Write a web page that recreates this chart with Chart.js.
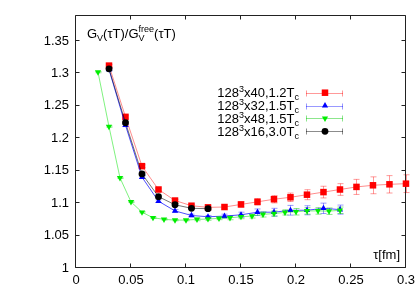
<!DOCTYPE html>
<html>
<head>
<meta charset="utf-8">
<script src="https://cdn.jsdelivr.net/npm/chart.js"></script>
<style>html,body{margin:0;padding:0;background:#fff}</style>
</head>
<body>
<canvas id="chart" width="420" height="294"></canvas>
<script>
// tau [fm] and G_V/G_V^free for each lattice
const tau40 = [0.03, 0.045, 0.06, 0.075, 0.09, 0.105, 0.12, 0.135, 0.15, 0.165, 0.18, 0.195, 0.21, 0.225, 0.24, 0.255, 0.27, 0.285, 0.30];
const g40 = [1.312, 1.233, 1.157, 1.121, 1.104, 1.096, 1.0935, 1.094, 1.098, 1.102, 1.106, 1.109, 1.113, 1.117, 1.121, 1.125, 1.1275, 1.129, 1.130];
const e40 = [0.002, 0.002, 0.002, 0.002, 0.002, 0.002, 0.002, 0.003, 0.004, 0.005, 0.0057, 0.0065, 0.0077, 0.009, 0.009, 0.0116, 0.013, 0.0134, 0.0137];

const tau32 = [0.03, 0.045, 0.06, 0.075, 0.09, 0.105, 0.12, 0.135, 0.15, 0.165, 0.18, 0.195, 0.21, 0.225, 0.24];
const g32 = [1.306, 1.220, 1.140, 1.103, 1.088, 1.081, 1.079, 1.080, 1.082, 1.086, 1.086, 1.089, 1.089, 1.092, 1.090];
const e32 = [0.002, 0.002, 0.002, 0.002, 0.002, 0.002, 0.002, 0.003, 0.004, 0.005, 0.006, 0.0075, 0.007, 0.008, 0.007];

const tau48 = [0.02, 0.03, 0.04, 0.05, 0.06, 0.07, 0.08, 0.09, 0.10, 0.11, 0.12, 0.13, 0.14, 0.15, 0.16, 0.17, 0.18, 0.19, 0.20, 0.21, 0.22, 0.23, 0.24];
const g48 = [1.302, 1.218, 1.139, 1.102, 1.086, 1.0775, 1.075, 1.0738, 1.0738, 1.0749, 1.0755, 1.0765, 1.0774, 1.079, 1.080, 1.0826, 1.084, 1.0857, 1.0867, 1.088, 1.088, 1.0876, 1.089];
const e48 = [0.001, 0.001, 0.001, 0.001, 0.001, 0.001, 0.001, 0.001, 0.001, 0.002, 0.002, 0.002, 0.003, 0.003, 0.003, 0.004, 0.004, 0.004, 0.005, 0.005, 0.005, 0.005, 0.005];

const tau16 = [0.03, 0.045, 0.06, 0.075, 0.09, 0.105, 0.12];
const g16 = [1.307, 1.224, 1.145, 1.110, 1.0975, 1.092, 1.0915];
const e16 = [0.002, 0.002, 0.002, 0.002, 0.002, 0.002, 0.002];

const xTicks = [0, 0.05, 0.1, 0.15, 0.2, 0.25, 0.3];
const yTicks = [1, 1.05, 1.1, 1.15, 1.2, 1.25, 1.3, 1.35];

const FONT = '"Liberation Sans", Arial, sans-serif';

const series = [
    { label: [["128"], ["3", "sup"], ["x40,1.2T"], ["c", "sub"]], tau: tau40, g: g40, err: e40,
      color: "#ff0000", line: "rgba(255,0,0,0.45)", errColor: "rgba(255,0,0,0.4)", style: "rect", radius: 4.6, rot: 0 },
    { label: [["128"], ["3", "sup"], ["x32,1.5T"], ["c", "sub"]], tau: tau32, g: g32, err: e32,
      color: "#0000ff", line: "rgba(0,0,255,0.7)", errColor: "rgba(0,0,255,0.4)", style: "triangle", radius: 3.6, rot: 0 },
    { label: [["128"], ["3", "sup"], ["x48,1.5T"], ["c", "sub"]], tau: tau48, g: g48, err: e48,
      color: "#00ee00", line: "rgba(0,230,0,0.5)", errColor: "rgba(0,200,0,0.45)", style: "triangle", radius: 3.6, rot: 180 },
    { label: [["128"], ["3", "sup"], ["x16,3.0T"], ["c", "sub"]], tau: tau16, g: g16, err: e16,
      color: "#000000", line: "rgba(0,0,0,0.55)", errColor: "rgba(0,0,0,0.45)", style: "circle", radius: 3.4, rot: 0 },
];

// draw text with ^sup / _sub pieces
function richWidth(ctx, parts) {
    let w = 0;
    parts.forEach(([t, k, t2]) => {
        ctx.font = (k ? "9px " : "13px ") + FONT;
        let pw = ctx.measureText(t).width;
        if (k === "subsup") pw = Math.max(pw, ctx.measureText(t2).width);
        w += pw;
    });
    return w;
}
function drawRich(ctx, parts, x, base) {
    ctx.textBaseline = "alphabetic";
    ctx.textAlign = "left";
    parts.forEach(([t, k, t2]) => {
        ctx.font = (k ? "9px " : "13px ") + FONT;
        let w = ctx.measureText(t).width;
        if (!k) ctx.fillText(t, x, base);
        else if (k === "sup") ctx.fillText(t, x, base - 5);
        else if (k === "sub") ctx.fillText(t, x, base + 3);
        else {
            ctx.fillText(t, x, base + 3);
            ctx.fillText(t2, x, base - 6);
            w = Math.max(w, ctx.measureText(t2).width);
        }
        x += w;
    });
}

const errorBars = {
    id: "errorBars",
    beforeDatasetsDraw(chart) {
        const ctx = chart.ctx, ys = chart.scales.y;
        chart.data.datasets.forEach((ds, i) => {
            const meta = chart.getDatasetMeta(i);
            ctx.save();
            ctx.strokeStyle = ds.errColor;
            ctx.lineWidth = 1;
            ctx.beginPath();
            meta.data.forEach((pt, j) => {
                const v = ds.data[j].y, e = ds.errs[j];
                const y1 = ys.getPixelForValue(v - e), y2 = ys.getPixelForValue(v + e);
                const x = Math.round(pt.x) + 0.5;
                ctx.moveTo(x, y1); ctx.lineTo(x, y2);
                ctx.moveTo(x - 3, y1); ctx.lineTo(x + 3, y1);
                ctx.moveTo(x - 3, y2); ctx.lineTo(x + 3, y2);
            });
            ctx.stroke();
            ctx.restore();
        });
    }
};

const frame = {
    id: "frame",
    beforeDatasetsDraw(chart) {
        const ctx = chart.ctx, a = chart.chartArea;
        const xs = chart.scales.x, ys = chart.scales.y;
        const L = Math.round(a.left) - 0.5, R = Math.round(a.right) - 0.5;
        const T = Math.round(a.top) + 0.5, B = Math.round(a.bottom) - 0.5;
        ctx.save();
        ctx.strokeStyle = "#222";
        ctx.lineWidth = 1;
        ctx.beginPath();
        ctx.rect(L, T, R - L, B - T);
        xTicks.forEach(v => {
            const x = Math.round(xs.getPixelForValue(v)) - 0.5;
            ctx.moveTo(x, B); ctx.lineTo(x, B - 4);
            ctx.moveTo(x, T); ctx.lineTo(x, T + 4);
        });
        yTicks.forEach(v => {
            const y = Math.round(ys.getPixelForValue(v)) - 0.5;
            ctx.moveTo(L, y); ctx.lineTo(L + 4, y);
            ctx.moveTo(R, y); ctx.lineTo(R - 4, y);
        });
        ctx.stroke();
        ctx.restore();
    },
    afterDraw(chart) {
        const ctx = chart.ctx;
        ctx.save();
        ctx.fillStyle = "#000";
        // title inside plot
        drawRich(ctx, [["G"], ["V", "sub"], ["(τT)/G"], ["V", "subsup", "free"], ["(τT)"]], 87, 37.5);
        // axis label
        ctx.font = "13px " + FONT;
        ctx.textAlign = "right";
        ctx.fillText("τ[fm]", 400, 259);
        // legend
        const rowY = [92.7, 105.7, 118.3, 131.3];
        series.forEach((s, i) => {
            const y = rowY[i];
            ctx.fillStyle = "#000";
            const w = richWidth(ctx, s.label);
            drawRich(ctx, s.label, 299 - w, y + 4.7);
            ctx.strokeStyle = s.errColor;
            ctx.lineWidth = 1;
            ctx.beginPath();
            const yy = Math.round(y) + 0.5;
            ctx.moveTo(306, yy); ctx.lineTo(343, yy);
            ctx.moveTo(306.5, yy - 3); ctx.lineTo(306.5, yy + 3);
            ctx.moveTo(342.5, yy - 3); ctx.lineTo(342.5, yy + 3);
            ctx.stroke();
            ctx.fillStyle = s.color;
            ctx.strokeStyle = s.color;
            Chart.helpers.drawPoint(ctx, { pointStyle: s.style, radius: s.radius, rotation: s.rot, borderWidth: 0 }, 325, y);
        });
        ctx.restore();
    }
};

new Chart(document.getElementById("chart"), {
    type: "scatter",
    data: {
        datasets: series.map((s, i) => ({
            label: s.label.map(p => p[0]).join(""),
            data: s.tau.map((t, j) => ({ x: t, y: s.g[j] })),
            errs: s.err,
            errColor: s.errColor,
            showLine: true,
            borderColor: s.line,
            borderWidth: 1,
            pointStyle: s.style,
            pointRotation: s.rot,
            pointRadius: s.radius,
            pointBackgroundColor: s.color,
            pointBorderColor: s.color,
            pointBorderWidth: 0,
            order: series.length - i,
            clip: false,
        }))
    },
    options: {
        responsive: false,
        animation: false,
        layout: { padding: { left: 0, right: 14, top: 15, bottom: 0 } },
        plugins: { legend: { display: false }, tooltip: { enabled: false } },
        scales: {
            x: {
                type: "linear", min: 0, max: 0.3,
                afterBuildTicks: s => { s.ticks = xTicks.map(value => ({ value })); },
                afterFit: s => { s.height = 26; },
                grid: { display: false, drawTicks: false, tickLength: 0 },
                border: { display: false },
                ticks: { padding: 5, color: "#000", font: { family: FONT, size: 13 }, maxRotation: 0,
                         callback: v => String(+v.toFixed(2)) }
            },
            y: {
                type: "linear", min: 1, max: 1.39,
                afterBuildTicks: s => { s.ticks = yTicks.map(value => ({ value })); },
                afterFit: s => { s.width = 76; },
                grid: { display: false, drawTicks: false, tickLength: 0 },
                border: { display: false },
                ticks: { padding: 7, color: "#000", font: { family: FONT, size: 13 },
                         callback: v => String(+v.toFixed(2)) }
            }
        }
    },
    plugins: [errorBars, frame]
});
</script>
</body>
</html>
